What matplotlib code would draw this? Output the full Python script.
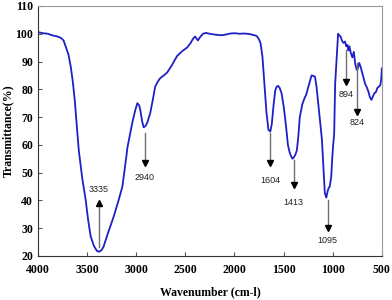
import matplotlib.pyplot as plt

# FTIR spectrum (10 values per row in both lists)
wavenumber = [
    4000, 3950, 3900, 3870, 3840, 3800, 3767, 3740, 3717, 3690,
    3666, 3645, 3626, 3605, 3585, 3550, 3515, 3490, 3464, 3430,
    3400, 3380, 3355, 3333, 3290, 3231, 3180, 3141, 3100, 3090,
    3060, 3040, 3010, 2989, 2970, 2959, 2940, 2925, 2905, 2888,
    2857, 2830, 2807, 2780, 2756, 2720, 2686, 2640, 2584, 2530,
    2483, 2450, 2420, 2402, 2385, 2372, 2350, 2321, 2290, 2250,
    2200, 2150, 2119, 2080, 2040, 2000, 1947, 1900, 1850, 1800,
    1775, 1755, 1735, 1715, 1695, 1674, 1654, 1635, 1620, 1600,
    1585, 1570, 1555, 1540, 1520, 1500, 1487, 1470, 1456, 1440,
    1425, 1410, 1395, 1380, 1365, 1350, 1335, 1310, 1285, 1270,
    1255, 1235, 1215, 1195, 1180, 1165, 1150, 1130, 1110, 1095,
    1080, 1065, 1050, 1040, 1030, 1015, 1005, 995, 985, 975,
    965, 955, 945, 935, 920, 905, 890, 875, 862, 850,
    840, 830, 815, 800, 785, 770, 755, 745, 730, 715,
    700, 685, 670, 650, 635, 620, 605, 590, 575, 560,
    545, 530, 515, 505, 500,
]
transmittance = [
    100.6, 100.2, 100.0, 99.6, 99.3, 99.0, 98.5, 97.6, 95.2, 92.5,
    88.0, 82.5, 76.0, 67.0, 58.0, 48.0, 40.2, 33.0, 27.0, 23.5,
    21.8, 21.5, 22.0, 23.3, 28.0, 34.0, 40.0, 45.0, 56.0, 59.0,
    64.5, 68.0, 72.5, 75.0, 74.2, 72.6, 68.5, 66.3, 66.8, 68.0,
    71.5, 76.5, 81.0, 82.8, 84.0, 85.0, 86.0, 88.5, 92.0, 93.8,
    95.0, 96.5, 98.3, 99.0, 98.2, 97.6, 98.8, 100.0, 100.3, 100.0,
    99.7, 99.5, 99.5, 99.8, 100.1, 100.2, 100.0, 100.1, 99.9, 99.5,
    99.2, 98.3, 96.7, 91.7, 82.0, 71.5, 65.4, 64.8, 67.5, 75.0,
    79.5, 81.0, 81.2, 80.5, 78.5, 74.0, 70.4, 65.0, 60.0, 57.5,
    56.0, 55.0, 55.5, 56.5, 58.0, 63.0, 70.0, 74.5, 77.0, 78.0,
    80.0, 82.5, 85.0, 84.8, 84.5, 81.0, 76.0, 69.0, 62.0, 52.0,
    42.6, 41.0, 43.5, 44.5, 45.0, 48.5, 55.0, 60.0, 64.0, 82.0,
    88.0, 94.0, 100.0, 99.5, 99.0, 97.5, 96.7, 97.2, 95.5, 96.0,
    94.0, 95.5, 93.0, 91.5, 93.5, 89.0, 87.0, 87.5, 89.5, 88.0,
    86.0, 84.0, 82.0, 80.5, 79.0, 77.0, 76.2, 77.5, 78.6, 79.0,
    80.5, 81.0, 81.5, 84.0, 87.5,
]

# peak labels with arrow tail / tip heights and label heights
peak_labels = ["3335", "2940", "1604", "1413", "1095", "894", "824"]
peak_x = [3379, 2911, 1635, 1396, 1050, 867, 755]
arrow_from = [23.2, 64.3, 64.3, 54.6, 40.2, 94.2, 89.5]
arrow_to = [39.1, 53.5, 53.5, 45.6, 30.1, 82.6, 71.8]
label_y = [43.8, 48.4, 47.0, 39.4, 25.4, 78.3, 67.9]

fig = plt.figure(figsize=(3.92, 3.0), dpi=100)
ax = fig.add_axes([0.097, 0.147, 0.877, 0.833])

ax.plot(wavenumber, transmittance, color='#1f1fc8', linewidth=1.3)

for txt, x, y0, y1, ly in zip(peak_labels, peak_x, arrow_from, arrow_to, label_y):
    # grey shaft with a small black head
    ax.plot([x, x], [y0, y1], color='#707070', linewidth=1.0)
    ax.plot([x], [y1], marker='v' if y1 < y0 else '^', color='black',
            markersize=4.5, linestyle='none')
    ax.text(x, ly, txt, ha='center', va='center', fontsize=6.5,
            family='Liberation Sans', color='#222222')

ax.set_xlim(4000, 500)
ax.set_ylim(20, 110)
ax.set_xticks([4000, 3500, 3000, 2500, 2000, 1500, 1000, 500])
ax.set_yticks([20, 30, 40, 50, 60, 70, 80, 90, 100, 110])

ax.tick_params(direction='in', length=3, width=0.8, color='#555555',
               labelsize=8.5)
ax.tick_params(axis='x', pad=6)
for lab in ax.get_xticklabels() + ax.get_yticklabels():
    lab.set_family('Liberation Serif')
    lab.set_fontweight('bold')

ax.spines['left'].set_color('#333333')
ax.spines['bottom'].set_color('#333333')
ax.spines['top'].set_color('#999999')
ax.spines['right'].set_color('#999999')

ax.set_xlabel('Wavenumber (cm-l)', family='Liberation Serif',
              fontweight='bold', fontsize=8.5, labelpad=7)
ax.set_ylabel('Transmittance(%)', family='Liberation Serif',
              fontweight='bold', fontsize=8.5, labelpad=1)

fig.savefig('out.png', dpi=100)
